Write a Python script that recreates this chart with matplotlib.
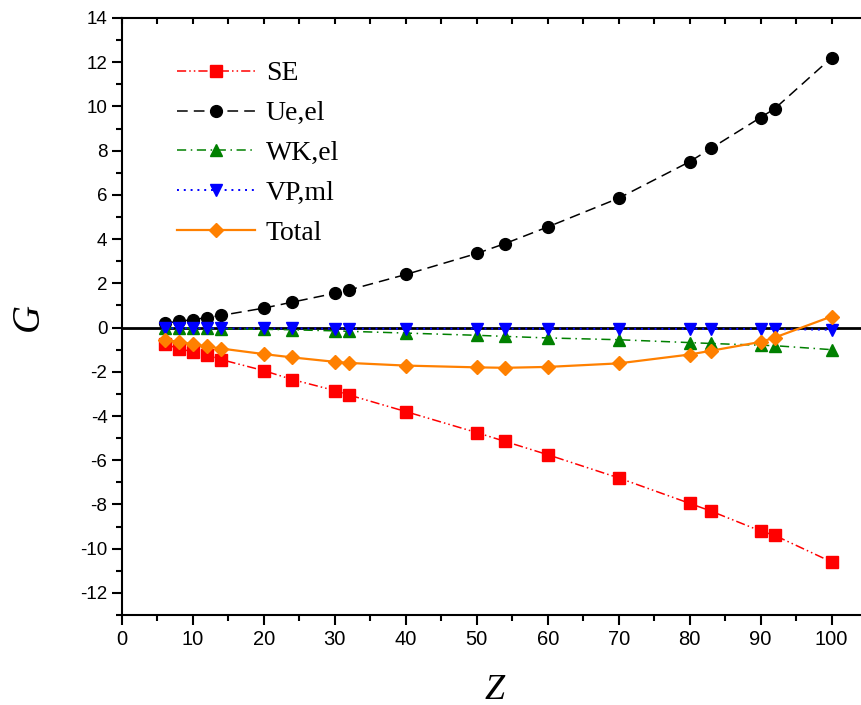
import numpy as np
import matplotlib
matplotlib.use("Agg")
import matplotlib.pyplot as plt
from matplotlib.ticker import MultipleLocator

plt.rcParams["axes.unicode_minus"] = False

# Z values and contributions
Z = [6, 8, 10, 12, 14, 20, 24, 30, 32, 40, 50, 54, 60, 70, 80, 83, 90, 92, 100]
SE = [-0.75, -0.95, -1.1, -1.25, -1.45, -1.95, -2.35, -2.85, -3.05, -3.8,
      -4.75, -5.15, -5.75, -6.8, -7.95, -8.3, -9.2, -9.4, -10.6]
Ue_el = [0.2, 0.28, 0.36, 0.45, 0.55, 0.88, 1.15, 1.55, 1.7, 2.4,
         3.35, 3.8, 4.55, 5.85, 7.5, 8.1, 9.5, 9.9, 12.2]
WK_el = [-0.02, -0.02, -0.03, -0.04, -0.05, -0.08, -0.1, -0.15, -0.17, -0.25,
         -0.35, -0.4, -0.47, -0.55, -0.68, -0.72, -0.8, -0.82, -1.0]
VP_ml = [-0.03, -0.03, -0.03, -0.03, -0.04, -0.04, -0.04, -0.05, -0.05, -0.05,
         -0.05, -0.05, -0.05, -0.06, -0.06, -0.06, -0.06, -0.07, -0.1]
Total = [-0.55, -0.65, -0.75, -0.85, -0.95, -1.2, -1.35, -1.55, -1.6, -1.72,
         -1.8, -1.82, -1.78, -1.62, -1.22, -1.05, -0.65, -0.45, 0.5]

fig = plt.figure(figsize=(8.62, 7.05), dpi=100)
ax = fig.add_axes([122 / 862, 90 / 705, 745 / 862, 597 / 705])

ax.axhline(0, color="black", lw=2.0, zorder=1)

ms = 8.5
ax.plot(Z, SE, color="red", ls=(0, (6, 2, 1, 2, 1, 2)), lw=1.1,
        marker="s", ms=ms, label="SE", zorder=3)
ax.plot(Z, Ue_el, color="black", ls=(0, (7, 4)), lw=1.1,
        marker="o", ms=ms, label="Ue,el", zorder=3)
ax.plot(Z, WK_el, color="green", ls=(0, (6, 3, 1, 3)), lw=1.1,
        marker="^", ms=ms, label="WK,el", zorder=3)
ax.plot(Z, VP_ml, color="blue", ls=(0, (1, 2.5)), lw=1.4,
        marker="v", ms=ms, label="VP,ml", zorder=4)
ax.plot(Z, Total, color="#ff8000", ls="-", lw=1.6,
        marker="D", ms=7.5, label="Total", zorder=5)

ax.set_xlim(0, 105)
ax.set_ylim(-13, 14)
ax.set_xticks(np.arange(0, 101, 10))
ax.xaxis.set_minor_locator(MultipleLocator(5))
ax.yaxis.set_major_locator(MultipleLocator(2))
ax.yaxis.set_minor_locator(MultipleLocator(1))

for sp in ax.spines.values():
    sp.set_linewidth(1.5)

ax.tick_params(which="both", width=1.5, direction="out")
ax.tick_params(which="major", length=7)
ax.tick_params(which="minor", length=4)
ax.tick_params(which="both", axis="x", top=True)

# top axis ticks point inward
for t in ax.xaxis.get_major_ticks() + ax.xaxis.get_minor_ticks():
    t.tick2line.set_marker(3)
    t.tick2line.set_markersize(4)

for lab in ax.get_yticklabels():
    lab.set_fontfamily(["Liberation Sans", "DejaVu Sans"])
    lab.set_fontsize(13.5)
for lab in ax.get_xticklabels():
    lab.set_fontfamily(["Liberation Sans Narrow", "Liberation Sans", "DejaVu Sans"])
    lab.set_fontsize(14.5)

ax.set_xlabel("Z", family="Liberation Serif", style="italic", fontsize=26, labelpad=18)
ax.set_ylabel("G", family="Liberation Serif", style="italic", fontsize=28, labelpad=24)

leg = ax.legend(loc="upper left", bbox_to_anchor=(0.04, 0.97), frameon=False,
                numpoints=1, handlelength=2.8, handletextpad=0.4, labelspacing=0.52,
                prop={"family": "Liberation Serif", "size": 20})

fig.savefig("out.png", dpi=100)
